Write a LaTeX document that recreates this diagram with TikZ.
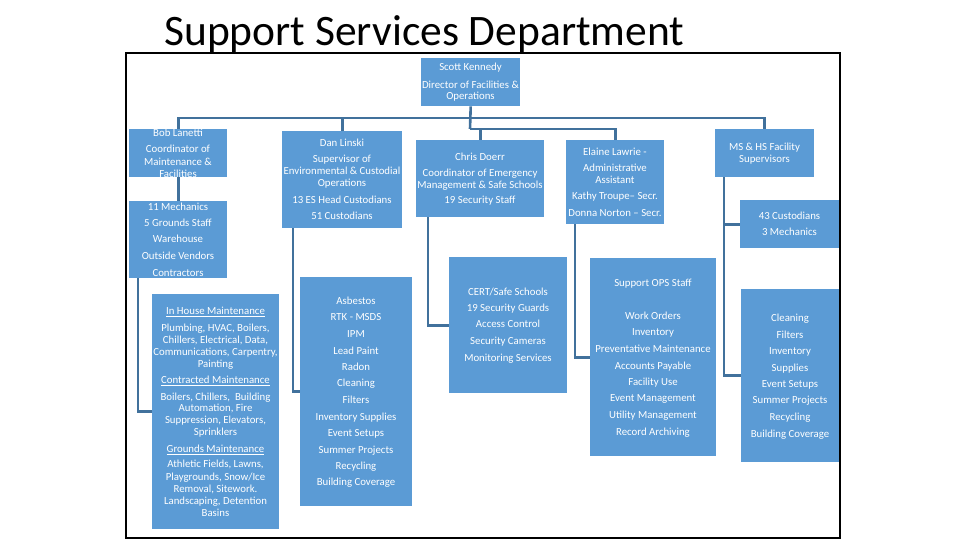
\documentclass[tikz,border=0pt]{standalone}
\usepackage{fontspec}
\newfontfamily\cf{Carlito}
\definecolor{boxblue}{HTML}{5B9BD5}
\definecolor{connblue}{HTML}{41719C}
\newcommand\obox[5]{\node[obox, minimum width=#4pt-#2pt, minimum height=#5pt-#3pt] (#1) at (#2,#3) {};}
\newcommand\tlines[3]{\foreach \yy/\lineT [count=\i] in {#3} {\node[txt] (#1-\i) at (#2,\yy) {\lineT};}}
\begin{document}
\begin{tikzpicture}[x=1pt,y=-1pt,
  obox/.style={fill=boxblue, draw=none, inner sep=0, anchor=north west},
  txt/.style={font=\cf\fontsize{10.8}{12}\selectfont, text=white, inner sep=0, anchor=base},
  conn/.style={draw=connblue, line width=2.6pt},
  frame/.style={draw=black, line width=2pt}]
\useasboundingbox (0,0) rectangle (960,540);
\draw[frame] (126,53) rectangle (840,538);
\node[anchor=base west, font=\cf\fontsize{43.5}{50}\selectfont, inner sep=0] (title) at (164,46) {Support Services Department};

\obox{scott}{421}{58}{520}{106}
\obox{bob}{129}{129}{227}{177}
\obox{mech}{129}{201}{227}{278}
\obox{dan}{282}{131}{402}{228}
\obox{chris}{416}{140}{544}{217}
\obox{elaine}{566}{140}{664}{224}
\obox{ms}{715}{129}{814}{177}
\obox{cust}{740}{200}{839}{248}
\obox{inhouse}{152}{294}{279}{529}
\obox{asb}{300}{277}{412}{506}
\obox{cert}{449}{257}{567}{393}
\obox{ops}{590}{258}{716}{456}
\obox{clean}{741}{289}{839}{462}

\coordinate (busTop) at (470,118);
\coordinate (busLow) at (470,129);
\draw[conn] (scott.south) -- (busLow);
\draw[conn] (bob.north) |- (busTop) -| (ms.north);
\draw[conn] (dan.north) -- (dan.north |- busTop);
\draw[conn] (chris.north) |- (busLow) -| (elaine.north);
\draw[conn] (bob.south) -- (mech.north);
\draw[conn] ([xshift=9pt]mech.south west) |- (inhouse.west);
\draw[conn] ([xshift=11pt]dan.south west) |- (asb.west);
\draw[conn] ([xshift=12pt]chris.south west) |- (cert.west);
\draw[conn] ([xshift=9pt]elaine.south west) |- (ops.west);
\draw[conn] ([xshift=9pt]ms.south west) |- (cust.west);
\draw[conn] ([xshift=9pt]ms.south west) |- (clean.west);

\tlines{scottT}{470.5}{70.5/Scott Kennedy, 88.5/Director of Facilities \&, 99.5/Operations}
\tlines{bobT}{178}{136.5/Bob Lanetti, 152.5/Coordinator of, 165.5/Maintenance \&, 177.5/Facilities}
\tlines{mechT}{178}{210.5/11 Mechanics, 226.5/5 Grounds Staff, 242.5/Warehouse, 259.5/Outside Vendors, 276.5/Contractors}
\tlines{danT}{342}{146.5/Dan Linski, 162.5/Supervisor of, 174.5/Environmental \& Custodial, 186.5/Operations, 203.5/13 ES Head Custodians, 219.5/51 Custodians}
\tlines{chrisT}{480}{160.5/Chris Doerr, 176.5/Coordinator of Emergency, 188.5/Management \& Safe Schools, 203.5/19 Security Staff}
\tlines{elaineT}{615}{155.5/Elaine Lawrie -, 171.5/Administrative, 183.5/Assistant, 199.5/Kathy Troupe– Secr., 216.5/Donna Norton – Secr.}
\tlines{msT}{764.5}{150.5/MS \& HS Facility, 162.5/Supervisors}
\tlines{custT}{789.5}{219.5/43 Custodians, 235.5/3 Mechanics}
\tlines{inhouseT}{215.5}{314.5/\underline{In House Maintenance}, 331.5/{Plumbing, HVAC, Boilers,}, 343.5/{Chillers, Electrical, Data,}, 355.5/{Communications, Carpentry,}, 367.5/Painting, 383.5/\underline{Contracted Maintenance}, 400.5/{Boilers, Chillers,\ \ Building}, 411.5/{Automation, Fire}, 423.5/{Suppression, Elevators,}, 435.5/Sprinklers, 452.5/\underline{Grounds Maintenance}, 467.5/{Athletic Fields, Lawns,}, 480.5/{Playgrounds, Snow/Ice}, 492.5/{Removal, Sitework.}, 504.5/{Landscaping, Detention}, 516.5/Basins}
\tlines{asbT}{356}{304.5/Asbestos, 320.5/RTK - MSDS, 337.5/IPM, 354.5/Lead Paint, 370.5/Radon, 386.5/Cleaning, 403.5/Filters, 420.5/Inventory Supplies, 436.5/Event Setups, 453.5/Summer Projects, 469.5/Recycling, 485.5/Building Coverage}
\tlines{certT}{508}{295.5/{CERT/Safe Schools}, 311.5/19 Security Guards, 327.5/Access Control, 344.5/Security Cameras, 361.5/Monitoring Services}
\tlines{opsT}{653}{286.5/Support OPS Staff, 319.5/Work Orders, 335.5/Inventory, 352.5/Preventative Maintenance, 369.5/Accounts Payable, 385.5/Facility Use, 401.5/Event Management, 418.5/Utility Management, 435.5/Record Archiving}
\tlines{cleanT}{790}{321.5/Cleaning, 338.5/Filters, 354.5/Inventory, 371.5/Supplies, 387.5/Event Setups, 403.5/Summer Projects, 420.5/Recycling, 437.5/Building Coverage}
\end{tikzpicture}
\end{document}
